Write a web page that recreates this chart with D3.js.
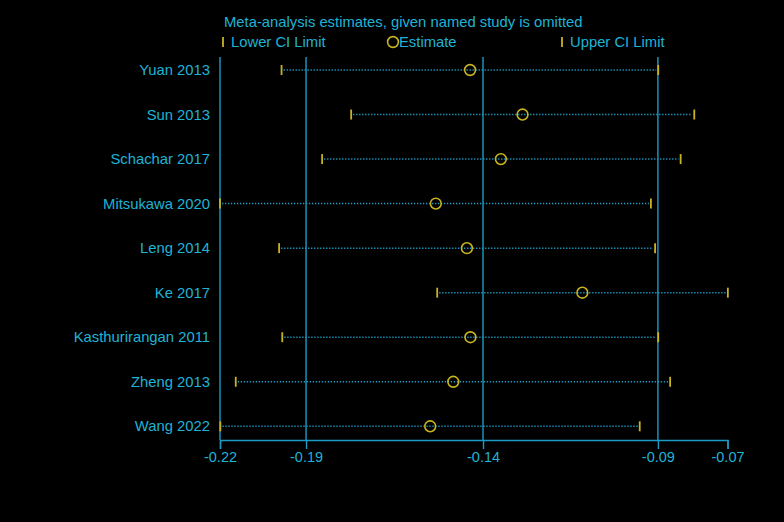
<!DOCTYPE html>
<html>
<head>
<meta charset="utf-8">
<script src="https://cdn.jsdelivr.net/npm/d3@7"></script>
<style>
  body { margin: 0; background: #000; }
  text { font-family: "Liberation Sans", Arial, sans-serif; }
</style>
</head>
<body>
<div id="chart"></div>
<script>
// data (omit-one-study estimates)
var studies = ["Yuan 2013", "Sun 2013", "Schachar 2017", "Mitsukawa 2020", "Leng 2014",
  "Ke 2017", "Kasthurirangan 2011", "Zheng 2013", "Wang 2022"];
var lowerCI = [-0.1976, -0.1777, -0.1860, -0.2152, -0.1983, -0.1531, -0.1974, -0.2107, -0.2151];
var estimate = [-0.1437, -0.1287, -0.1349, -0.1535, -0.1446, -0.1116, -0.1436, -0.1485, -0.1551];
var upperCI = [-0.0899, -0.0796, -0.0835, -0.0920, -0.0908, -0.0700, -0.0899, -0.0865, -0.0952];

// stata puts ticks at min lower, overall CI / estimate, max upper
var tickValues = [-0.2152, -0.1906, -0.1400, -0.0900, -0.0701];
var tickLabels = ["-0.22", "-0.19", "-0.14", "-0.09", "-0.07"];

var svgWidth = 784;
var svgHeight = 522;

var blue = "#1b9cc6";
var textBlue = "#1fb3d6";
var yellow = "#c9b420";
var fs = "14.8px";

var svg = d3.select("#chart")
  .append("svg")
  .attr("width", svgWidth)
  .attr("height", svgHeight)
  .style("background", "#000");

var plotTop = 57;
var plotBottom = 440;

var xScale = d3.scaleLinear()
  .domain([tickValues[0], tickValues[4]])
  .range([220, 727.5]);

var yScale = d3.scalePoint()
  .domain(studies)
  .range([70, 426.3]);

var rows = studies.map(function(s, i) {
  return { study: s, lo: lowerCI[i], est: estimate[i], hi: upperCI[i] };
});

// x axis
var bottomAxis = d3.axisBottom(xScale)
  .tickValues(tickValues)
  .tickFormat(function(d, i) { return tickLabels[i]; })
  .tickSizeOuter(0)
  .tickSize(9);

var xAxis = svg.append("g")
  .attr("transform", `translate(0, ${plotBottom})`)
  .call(bottomAxis);
xAxis.select(".domain").attr("stroke", blue).attr("stroke-width", 1.4);
xAxis.selectAll(".tick line").attr("stroke", blue).attr("stroke-width", 1.4);
xAxis.selectAll(".tick text")
  .attr("fill", textBlue)
  .attr("font-size", "14.5px")
  .attr("dy", "0.7em")
  .style("font-family", "'Liberation Sans', Arial, sans-serif");

// vertical lines: left axis + overall CI/estimate
svg.selectAll(".vline")
  .data(tickValues.slice(0, 4))
  .enter()
  .append("line")
  .attr("class", "vline")
  .attr("x1", d => xScale(d))
  .attr("x2", d => xScale(d))
  .attr("y1", plotTop)
  .attr("y2", plotBottom)
  .attr("stroke", blue)
  .attr("stroke-width", 1.4);

// study labels
svg.selectAll(".slabel")
  .data(rows)
  .enter()
  .append("text")
  .attr("class", "slabel")
  .attr("x", 210)
  .attr("y", d => yScale(d.study))
  .attr("dy", "0.35em")
  .attr("text-anchor", "end")
  .attr("font-size", fs)
  .attr("fill", textBlue)
  .text(d => d.study);

// dotted CI lines
svg.selectAll(".ci")
  .data(rows)
  .enter()
  .append("line")
  .attr("class", "ci")
  .attr("x1", d => xScale(d.lo) + 2)
  .attr("x2", d => xScale(d.hi) - 2)
  .attr("y1", d => yScale(d.study))
  .attr("y2", d => yScale(d.study))
  .attr("stroke", blue)
  .attr("stroke-width", 1.5)
  .attr("stroke-dasharray", "1.3,1.7");

// caps for lower and upper limit
var caps = rows.flatMap(d => [{ y: d.study, v: d.lo }, { y: d.study, v: d.hi }]);
svg.selectAll(".cap")
  .data(caps)
  .enter()
  .append("line")
  .attr("class", "cap")
  .attr("x1", d => xScale(d.v))
  .attr("x2", d => xScale(d.v))
  .attr("y1", d => yScale(d.y) - 5)
  .attr("y2", d => yScale(d.y) + 5)
  .attr("stroke", yellow)
  .attr("stroke-width", 1.8);

// estimate circles
svg.selectAll(".est")
  .data(rows)
  .enter()
  .append("circle")
  .attr("class", "est")
  .attr("cx", d => xScale(d.est))
  .attr("cy", d => yScale(d.study))
  .attr("r", 5.4)
  .attr("fill", "none")
  .attr("stroke", yellow)
  .attr("stroke-width", 1.6);

// title + legend
svg.append("text")
  .attr("x", 224)
  .attr("y", 27)
  .attr("font-size", fs)
  .attr("fill", textBlue)
  .text("Meta-analysis estimates, given named study is omitted");

svg.append("line")
  .attr("x1", 223).attr("x2", 223)
  .attr("y1", 37).attr("y2", 47)
  .attr("stroke", yellow).attr("stroke-width", 1.8);
svg.append("text")
  .attr("x", 231).attr("y", 47)
  .attr("font-size", fs).attr("fill", textBlue)
  .text("Lower CI Limit");

svg.append("circle")
  .attr("cx", 393).attr("cy", 42).attr("r", 5.4)
  .attr("fill", "none").attr("stroke", yellow).attr("stroke-width", 1.6);
svg.append("text")
  .attr("x", 399).attr("y", 47)
  .attr("font-size", fs).attr("fill", textBlue)
  .text("Estimate");

svg.append("line")
  .attr("x1", 562).attr("x2", 562)
  .attr("y1", 37).attr("y2", 47)
  .attr("stroke", yellow).attr("stroke-width", 1.8);
svg.append("text")
  .attr("x", 570).attr("y", 47)
  .attr("font-size", fs).attr("fill", textBlue)
  .text("Upper CI Limit");
</script>
</body>
</html>
